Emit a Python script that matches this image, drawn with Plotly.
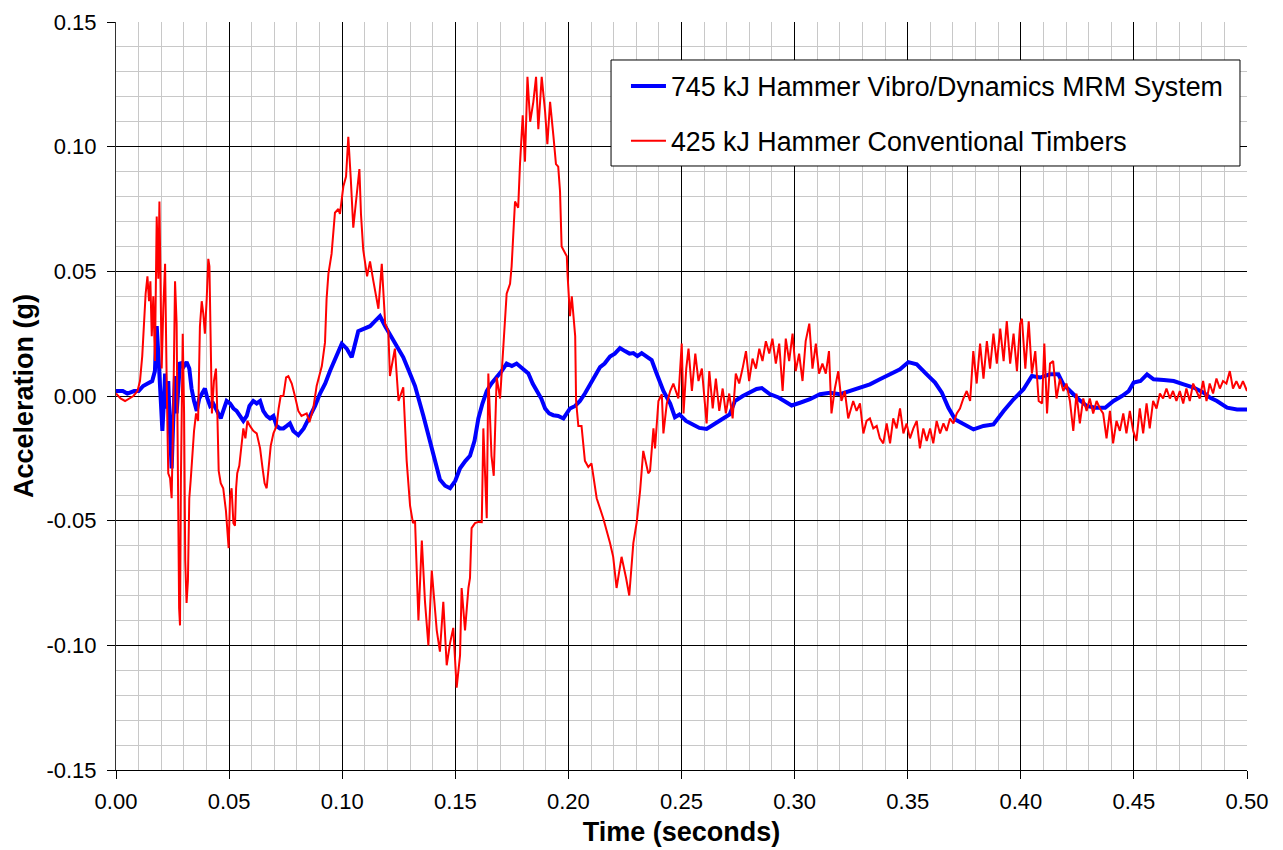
import plotly.graph_objects as go

# (time s, acceleration g)
blue_pts = [
    (0.000, 0.002), (0.003, 0.002), (0.005, 0.001), (0.008, 0.002), (0.010, 0.002), (0.012, 0.004),
    (0.014, 0.005), (0.016, 0.006), (0.0172, 0.010), (0.0180, 0.028), (0.0190, 0.012), (0.0200, -0.010),
    (0.0205, -0.014), (0.0213, 0.000), (0.0217, 0.009), (0.0221, -0.005), (0.0231, 0.006), (0.0239, -0.015),
    (0.0246, -0.029), (0.0253, -0.010), (0.0261, 0.008), (0.0268, -0.007), (0.0276, 0.006), (0.0283, 0.0136),
    (0.0298, 0.0116), (0.0312, 0.0136), (0.0324, 0.011), (0.0334, 0.003), (0.0345, -0.002), (0.0357, -0.006),
    (0.0368, -0.001), (0.0383, 0.001), (0.0393, 0.003), (0.0404, -0.001), (0.0416, -0.004), (0.0430, -0.003),
    (0.0445, -0.006), (0.0463, -0.009), (0.0474, -0.006), (0.0489, -0.002), (0.0504, -0.003), (0.0519, -0.005),
    (0.0533, -0.006), (0.0548, -0.008), (0.0563, -0.010), (0.0578, -0.008), (0.0590, -0.004), (0.0607, -0.002),
    (0.0622, -0.003), (0.0637, -0.002), (0.0651, -0.006), (0.0666, -0.008), (0.0681, -0.009), (0.0696, -0.008),
    (0.0710, -0.012), (0.0725, -0.013), (0.0740, -0.013), (0.0755, -0.012), (0.0769, -0.011), (0.0784, -0.014),
    (0.0806, -0.0157), (0.0830, -0.013), (0.0858, -0.008), (0.0880, -0.004), (0.0902, 0.001), (0.0925, 0.005),
    (0.0946, 0.010), (0.0970, 0.015), (0.0998, 0.021), (0.1020, 0.019), (0.1042, 0.0155), (0.1071, 0.026),
    (0.1095, 0.027), (0.1123, 0.028), (0.1145, 0.030), (0.1167, 0.032), (0.1190, 0.028), (0.1211, 0.0245),
    (0.1240, 0.020), (0.1270, 0.0155), (0.1295, 0.010), (0.1322, 0.004), (0.1359, -0.008), (0.1380, -0.015),
    (0.1403, -0.023), (0.1432, -0.0335), (0.1455, -0.036), (0.1477, -0.037), (0.1500, -0.034), (0.1521, -0.029),
    (0.1545, -0.026), (0.1565, -0.024), (0.1585, -0.018), (0.1602, -0.009), (0.1620, -0.003), (0.1639, 0.002),
    (0.1660, 0.005), (0.1683, 0.0075), (0.1705, 0.010), (0.1727, 0.013), (0.1750, 0.012), (0.1771, 0.013),
    (0.1800, 0.011), (0.1823, 0.009), (0.1842, 0.005), (0.1860, 0.002), (0.1880, -0.001), (0.1897, -0.005),
    (0.1915, -0.007), (0.1933, -0.0077), (0.1955, -0.008), (0.1978, -0.009), (0.2007, -0.005), (0.2030, -0.004),
    (0.2051, -0.002), (0.2073, 0.001), (0.2095, 0.0047), (0.2118, 0.008), (0.2140, 0.0116), (0.2160, 0.013),
    (0.2184, 0.0158), (0.2205, 0.017), (0.2228, 0.0192), (0.2250, 0.018), (0.2270, 0.017), (0.2287, 0.0172),
    (0.2305, 0.016), (0.2324, 0.0172), (0.2345, 0.016), (0.2368, 0.0144), (0.2390, 0.009), (0.2420, 0.002),
    (0.2450, -0.003), (0.2471, -0.0085), (0.2491, -0.0074), (0.2520, -0.010), (0.2550, -0.0114), (0.2579, -0.0128),
    (0.2611, -0.0132), (0.2640, -0.0114), (0.2677, -0.0094), (0.2713, -0.0074), (0.2736, -0.002), (0.2771, 0.000),
    (0.2803, 0.0015), (0.2832, 0.0028), (0.2855, 0.0032), (0.2890, 0.0008), (0.2929, -0.0006), (0.2964, -0.0027),
    (0.2987, -0.0038), (0.3024, -0.0027), (0.3068, -0.0013), (0.3112, 0.0007), (0.3157, 0.0013), (0.3201, 0.0007),
    (0.3245, 0.002), (0.3289, 0.0034), (0.3333, 0.0047), (0.3377, 0.0067), (0.3422, 0.0087), (0.3466, 0.0107),
    (0.3503, 0.0136), (0.3540, 0.0127), (0.3584, 0.0087), (0.3621, 0.0054), (0.3651, 0.0013), (0.3680, -0.0047),
    (0.3710, -0.0094), (0.3747, -0.0114), (0.3791, -0.0134), (0.3835, -0.012), (0.3879, -0.0114), (0.3924, -0.006),
    (0.3968, -0.0013), (0.4012, 0.0027), (0.4049, 0.008), (0.4085, 0.0074), (0.4129, 0.0087), (0.4166, 0.0087),
    (0.4188, 0.0047), (0.4218, 0.002), (0.4255, -0.0013), (0.4292, -0.004), (0.4329, -0.0047), (0.4373, -0.0047),
    (0.4410, -0.002), (0.4447, 0.000), (0.4477, 0.002), (0.4499, 0.0054), (0.4529, 0.006), (0.4558, 0.0087),
    (0.4587, 0.0067), (0.4632, 0.0064), (0.4676, 0.006), (0.4720, 0.0047), (0.4764, 0.0034), (0.4808, 0.0013),
    (0.4838, -0.0007), (0.4867, -0.002), (0.4912, -0.0047), (0.4956, -0.0054), (0.5000, -0.0054),
]

red_pts = [
    (0.000, 0.001), (0.002, -0.001), (0.004, -0.002), (0.006, -0.001), (0.0077, 0.000), (0.0095, 0.002),
    (0.0106, 0.006), (0.0116, 0.016), (0.0121, 0.025), (0.0131, 0.041), (0.0139, 0.048), (0.0146, 0.038),
    (0.0152, 0.046), (0.0158, 0.024), (0.0165, 0.040), (0.0172, 0.014), (0.0180, 0.072), (0.0187, 0.047),
    (0.0192, 0.078), (0.0198, 0.046), (0.0202, 0.011), (0.0209, 0.035), (0.0217, 0.053), (0.0224, 0.006),
    (0.0231, -0.031), (0.0239, -0.033), (0.0246, -0.041), (0.0253, -0.007), (0.0261, 0.046), (0.0268, 0.029),
    (0.0273, -0.030), (0.0279, -0.085), (0.0283, -0.092), (0.0287, -0.033), (0.0295, 0.025), (0.0301, -0.007),
    (0.0306, -0.066), (0.0312, -0.083), (0.0318, -0.074), (0.0324, -0.041), (0.0330, -0.034), (0.0337, -0.023),
    (0.0345, -0.014), (0.0354, -0.007), (0.0363, -0.010), (0.0371, 0.028), (0.0379, 0.038), (0.0386, 0.033),
    (0.0393, 0.025), (0.0401, 0.039), (0.0408, 0.055), (0.0413, 0.052), (0.0419, 0.011), (0.0424, -0.007),
    (0.0433, 0.006), (0.0442, 0.011), (0.0448, -0.007), (0.0454, -0.030), (0.0463, -0.035), (0.0474, -0.037),
    (0.0486, -0.046), (0.0492, -0.054), (0.0498, -0.061), (0.0504, -0.041), (0.0511, -0.037), (0.0519, -0.051),
    (0.0526, -0.052), (0.0531, -0.037), (0.0536, -0.031), (0.0545, -0.028), (0.0554, -0.021), (0.0563, -0.013),
    (0.0572, -0.017), (0.0581, -0.010), (0.0592, -0.012), (0.0607, -0.014), (0.0622, -0.015), (0.0637, -0.021),
    (0.0648, -0.029), (0.0657, -0.035), (0.0666, -0.037), (0.0675, -0.029), (0.0684, -0.020), (0.0696, -0.015),
    (0.0710, -0.012), (0.0719, -0.005), (0.0728, 0.000), (0.0740, 0.000), (0.0752, 0.0075), (0.0762, 0.008),
    (0.0777, 0.005), (0.0791, 0.000), (0.0806, -0.006), (0.0820, -0.008), (0.0843, -0.007), (0.0855, -0.0105),
    (0.0872, -0.005), (0.0887, 0.004), (0.0910, 0.012), (0.0924, 0.0215), (0.0931, 0.039), (0.0939, 0.049),
    (0.0953, 0.057), (0.0968, 0.0735), (0.0983, 0.075), (0.0990, 0.073), (0.1005, 0.084), (0.1017, 0.088),
    (0.1027, 0.104), (0.1038, 0.087), (0.1049, 0.0675), (0.1061, 0.078), (0.1076, 0.091), (0.1083, 0.073),
    (0.1093, 0.0586), (0.1110, 0.048), (0.1123, 0.054), (0.1138, 0.046), (0.1160, 0.035), (0.1175, 0.053),
    (0.1190, 0.029), (0.1204, 0.026), (0.1211, 0.008), (0.1233, 0.019), (0.1249, -0.002), (0.1270, 0.0035),
    (0.1285, -0.026), (0.1300, -0.044), (0.1313, -0.051), (0.1322, -0.050), (0.1337, -0.090), (0.1352, -0.058),
    (0.1366, -0.0825), (0.1381, -0.100), (0.1396, -0.070), (0.1418, -0.094), (0.1432, -0.1025), (0.1447, -0.0825),
    (0.1462, -0.108), (0.1477, -0.099), (0.1491, -0.093), (0.1506, -0.117), (0.1521, -0.104), (0.1528, -0.077),
    (0.1543, -0.094), (0.1558, -0.077), (0.1565, -0.073), (0.1572, -0.053), (0.1587, -0.051), (0.1602, -0.0505),
    (0.1617, -0.0506), (0.1624, -0.013), (0.1639, -0.049), (0.1646, 0.009), (0.1660, -0.024), (0.1670, -0.032),
    (0.1683, 0.0075), (0.1698, -0.001), (0.1712, 0.020), (0.1727, 0.041), (0.1742, 0.045), (0.1749, 0.052),
    (0.1764, 0.078), (0.1778, 0.0755), (0.1786, 0.093), (0.1798, 0.1126), (0.1808, 0.094), (0.1819, 0.128),
    (0.1831, 0.110), (0.1845, 0.118), (0.1857, 0.128), (0.1867, 0.107), (0.1882, 0.128), (0.1897, 0.114),
    (0.1907, 0.101), (0.1919, 0.118), (0.1934, 0.104), (0.1945, 0.093), (0.1955, 0.092), (0.1963, 0.082),
    (0.1970, 0.060), (0.1993, 0.056), (0.1996, 0.049), (0.2007, 0.032), (0.2015, 0.040), (0.2030, 0.024),
    (0.2034, -0.002), (0.2044, -0.012), (0.2058, -0.012), (0.2073, -0.026), (0.2088, -0.0285), (0.2102, -0.027),
    (0.2125, -0.041), (0.2154, -0.049), (0.2184, -0.059), (0.2198, -0.0645), (0.2213, -0.077), (0.2235, -0.0645),
    (0.2255, -0.073), (0.2269, -0.080), (0.2287, -0.059), (0.2302, -0.0506), (0.2317, -0.038), (0.2331, -0.022),
    (0.2353, -0.031), (0.2361, -0.030), (0.2376, -0.013), (0.2383, -0.021), (0.2398, -0.002), (0.2413, 0.0007),
    (0.2420, -0.015), (0.2435, -0.003), (0.2450, 0.002), (0.2464, 0.005), (0.2486, -0.001), (0.2501, 0.021),
    (0.2509, -0.007), (0.2521, 0.011), (0.2531, 0.019), (0.2546, 0.002), (0.2561, 0.017), (0.2575, 0.006),
    (0.2590, 0.011), (0.2600, -0.001), (0.2611, -0.011), (0.2623, 0.010), (0.2638, -0.005), (0.2652, 0.007),
    (0.2667, -0.006), (0.2682, 0.003), (0.2696, -0.007), (0.2711, 0.001), (0.2726, -0.009), (0.2740, 0.009),
    (0.2755, 0.005), (0.2770, 0.011), (0.2785, 0.018), (0.2799, 0.006), (0.2814, 0.015), (0.2829, 0.011),
    (0.2844, 0.019), (0.2858, 0.014), (0.2873, 0.022), (0.2888, 0.017), (0.2902, 0.023), (0.2917, 0.013),
    (0.2932, 0.021), (0.2947, 0.002), (0.2961, 0.023), (0.2976, 0.014), (0.2991, 0.025), (0.3005, 0.010),
    (0.3020, 0.017), (0.3035, 0.006), (0.3049, 0.022), (0.3065, 0.029), (0.3079, 0.011), (0.3094, 0.021),
    (0.3108, 0.009), (0.3123, 0.013), (0.3138, 0.009), (0.3152, 0.018), (0.3163, -0.007), (0.3178, 0.003),
    (0.3193, 0.010), (0.3207, -0.002), (0.3222, 0.002), (0.3237, -0.009), (0.3259, -0.002), (0.3274, -0.006),
    (0.3289, -0.003), (0.3304, -0.015), (0.3318, -0.010), (0.3333, -0.009), (0.3348, -0.013), (0.3363, -0.012),
    (0.3377, -0.017), (0.3392, -0.019), (0.3407, -0.011), (0.3422, -0.019), (0.3436, -0.009), (0.3451, -0.013),
    (0.3466, -0.005), (0.3481, -0.015), (0.3495, -0.011), (0.3510, -0.017), (0.3525, -0.013), (0.3540, -0.010),
    (0.3554, -0.021), (0.3569, -0.013), (0.3584, -0.018), (0.3599, -0.013), (0.3613, -0.019), (0.3628, -0.010),
    (0.3643, -0.015), (0.3658, -0.011), (0.3672, -0.014), (0.3687, -0.009), (0.3702, -0.011), (0.3717, -0.007),
    (0.3731, -0.005), (0.3746, -0.001), (0.3761, 0.002), (0.3776, -0.002), (0.3790, 0.018), (0.3805, 0.005),
    (0.3820, 0.021), (0.3835, 0.007), (0.3850, 0.022), (0.3864, 0.011), (0.3879, 0.025), (0.3894, 0.013),
    (0.3909, 0.027), (0.3924, 0.014), (0.3938, 0.030), (0.3953, 0.013), (0.3968, 0.025), (0.3983, 0.010),
    (0.3997, 0.029), (0.4005, 0.031), (0.4020, 0.011), (0.4035, 0.030), (0.4049, 0.009), (0.4064, 0.018),
    (0.4079, -0.002), (0.4094, -0.003), (0.4104, 0.021), (0.4116, -0.007), (0.4129, 0.013), (0.4143, 0.014),
    (0.4158, -0.001), (0.4173, 0.007), (0.4188, 0.002), (0.4202, 0.005), (0.4217, -0.002), (0.4232, -0.014),
    (0.4246, 0.001), (0.4261, -0.011), (0.4276, -0.001), (0.4291, -0.006), (0.4305, -0.001), (0.4320, -0.007),
    (0.4335, -0.002), (0.4350, -0.005), (0.4364, -0.007), (0.4379, -0.017), (0.4394, -0.006), (0.4408, -0.019),
    (0.4423, -0.010), (0.4438, -0.014), (0.4453, -0.007), (0.4467, -0.015), (0.4482, -0.006), (0.4497, -0.014),
    (0.4511, -0.018), (0.4526, -0.005), (0.4541, -0.015), (0.4556, -0.003), (0.4570, -0.013), (0.4585, -0.002),
    (0.4600, -0.005), (0.4615, 0.001), (0.4629, -0.001), (0.4644, 0.003), (0.4659, -0.001), (0.4673, 0.002),
    (0.4688, -0.002), (0.4703, 0.002), (0.4718, -0.003), (0.4732, 0.003), (0.4747, -0.002), (0.4762, 0.005),
    (0.4777, 0.002), (0.4791, -0.001), (0.4806, 0.006), (0.4821, -0.002), (0.4835, 0.005), (0.4850, 0.001),
    (0.4865, 0.007), (0.4880, 0.003), (0.4894, 0.006), (0.4909, 0.005), (0.4924, 0.010), (0.4938, 0.003),
    (0.4953, 0.006), (0.4968, 0.003), (0.4982, 0.006), (0.5000, 0.002),
]

x_ticks = [0.00, 0.05, 0.10, 0.15, 0.20, 0.25, 0.30, 0.35, 0.40, 0.45, 0.50]
x_labels = ["0.00", "0.05", "0.10", "0.15", "0.20", "0.25", "0.30", "0.35", "0.40", "0.45", "0.50"]
y_ticks = [-0.15, -0.10, -0.05, 0.00, 0.05, 0.10, 0.15]
y_labels = ["-0.15", "-0.10", "-0.05", "0.00", "0.05", "0.10", "0.15"]

blue_name = "745 kJ Hammer Vibro/Dynamics MRM System"
red_name = "425 kJ Hammer Conventional Timbers"

font = "Liberation Sans, Arial, sans-serif"

fig = go.Figure()
fig.add_trace(go.Scatter(
    x=[p[0] for p in blue_pts], y=[p[1] for p in blue_pts],
    mode="lines", name=blue_name, legendgroup="b",
    line=dict(color="#0000ff", width=4),
))
fig.add_trace(go.Scatter(
    x=[p[0] for p in red_pts], y=[p[1] for p in red_pts],
    mode="lines", name=red_name, legendgroup="r",
    line=dict(color="#ff0000", width=2),
))

axis_common = dict(
    showgrid=True, gridcolor="#000000", gridwidth=1,
    ticks="outside", ticklen=8, tickcolor="#000000", tickwidth=1,
    tickfont=dict(family=font, size=22, color="#000000"),
    zeroline=False, showline=True, linewidth=1, automargin=False,
    minor=dict(dtick=0.01, tick0=0, showgrid=True, gridcolor="#c8c8c8", gridwidth=1, ticks=""),
)

fig.update_xaxes(
    axis_common, range=[0, 0.5], tickmode="array", tickvals=x_ticks, ticktext=x_labels,
    linecolor="#000000", ticklabelstandoff=4,
    title=dict(text="<b>Time (seconds)</b>", font=dict(family=font, size=27, color="#000000"), standoff=8),
)
fig.update_yaxes(
    axis_common, range=[-0.15, 0.15], tickmode="array", tickvals=y_ticks, ticktext=y_labels,
    linecolor="#333333", ticklabelstandoff=6,
    title=dict(text="<b>Acceleration (g)</b>", font=dict(family=font, size=27, color="#000000"), standoff=4),
)

# legend frame (white box over the grid)
fig.add_shape(
    type="rect", xref="paper", yref="paper",
    x0=0.4377, x1=0.9938, y0=0.8075, y1=0.9492,
    line=dict(color="#000000", width=1), fillcolor="#ffffff", layer="above",
)

fig.update_layout(
    width=1283, height=850,
    # the page adds an 8px body margin, so the margins are trimmed to keep the plot in place
    margin=dict(l=108, r=44, t=14, b=88),
    plot_bgcolor="#ffffff", paper_bgcolor="#ffffff",
    font=dict(family=font, color="#000000"),
    legend=dict(
        x=0.4509, y=0.9465, xanchor="left", yanchor="top",
        bgcolor="rgba(0,0,0,0)", borderwidth=0,
        font=dict(family=font, size=26.8),
        itemwidth=35, tracegroupgap=17,
    ),
)

fig.write_html("out.html")
